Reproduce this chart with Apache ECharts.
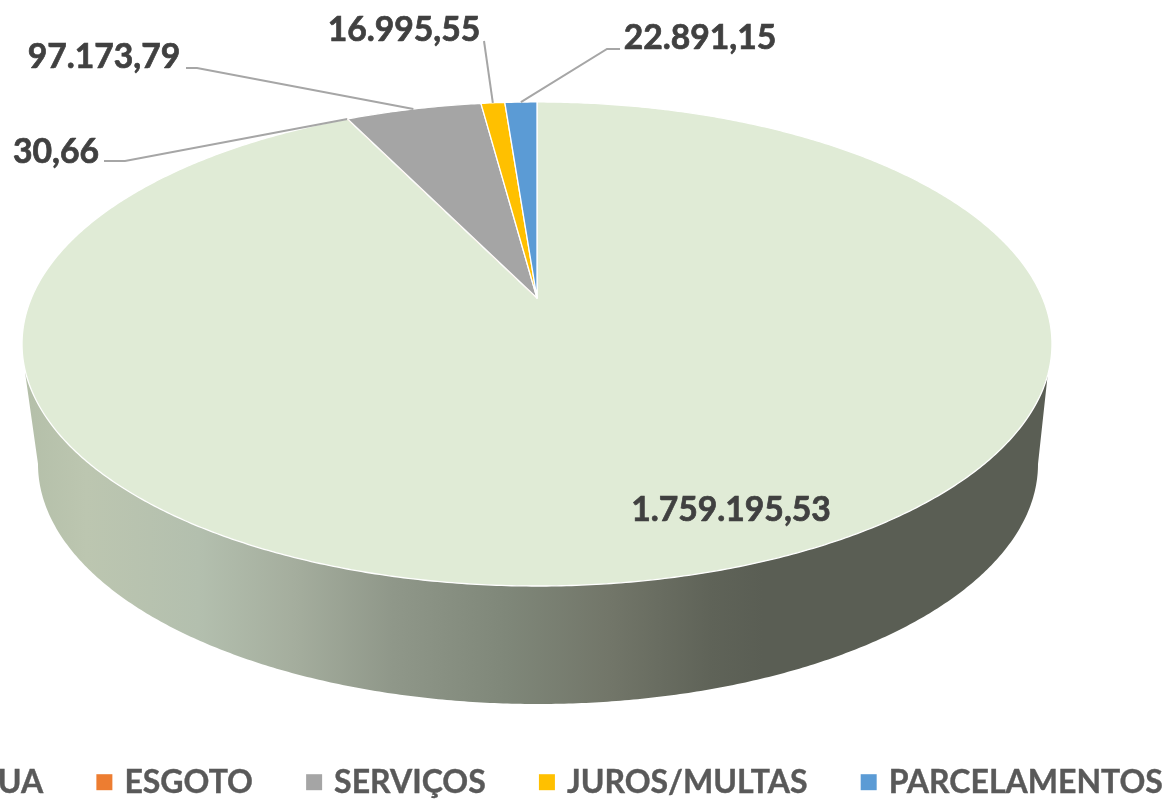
<!DOCTYPE html>
<html><head><meta charset="utf-8">
<style>html,body{margin:0;padding:0;background:#fff;overflow:hidden}#c{width:1167px;height:800px}</style>
<script src="https://cdn.jsdelivr.net/npm/echarts@6/dist/echarts.min.js"></script>
</head><body><div id="c"></div>
<script>
const categories = ['ÁGUA', 'ESGOTO', 'SERVIÇOS', 'JUROS/MULTAS', 'PARCELAMENTOS'];
const values = [1759195.53, 30.66, 97173.79, 16995.55, 22891.15];
const colors = ['#e0ebd6', '#ed7d31', '#a5a5a5', '#ffc000', '#5b9bd5'];

// Perspective disc: projective map of a unit circle (apex = centre of the circle)
const disc = { cx: 537, cy: 298, a: 505.6, b: 233.3, p: 0.19 };
const base = { cx: 538, cy: 464, rx: 500, ry: 240 };
// label anchor: text centre, and the elbow of the leader line
const labelLayout = [
  { x: 731, y: 510 },
  { x: 56, y: 152, line: [[104, 161], [125, 161]] },
  { x: 104, y: 57, line: [[186, 68], [197, 68]] },
  { x: 404, y: 30, line: [[484, 41]] },
  { x: 700, y: 38, line: [[620, 49], [607, 49]] }
];
const total = values.reduce((s, v) => s + v, 0);
function project(t) {
  const w = 1 + disc.p * Math.cos(t);
  return [disc.cx + disc.a * Math.sin(t) / w, disc.cy - disc.b * Math.cos(t) / w];
}
function fmt(v) {
  const [i, d] = v.toFixed(2).split('.');
  return i.replace(/\B(?=(\d{3})+(?!\d))/g, '.') + ',' + d;
}
const font = { fontFamily: 'Lato', fontWeight: 700, fontSize: 33.7, stroke: '#404040', lineWidth: 0.7 };
function sliceSeries(idx) {
  const before = values.slice(0, idx).reduce((s, v) => s + v, 0);
  return {
    type: 'custom', name: categories[idx], coordinateSystem: 'none',
    itemStyle: { color: colors[idx] }, silent: true, z: 3, clip: false,
    data: [[values[idx]]],
    renderItem(params, api) {
      const v = api.value(0);
      const t0 = before / total * Math.PI * 2, t1 = (before + v) / total * Math.PI * 2;
      const pts = [[disc.cx, disc.cy]];
      const n = Math.max(2, Math.ceil((t1 - t0) / 0.008));
      for (let i = 0; i <= n; i++) pts.push(project(t0 + (t1 - t0) * i / n));
      const lay = labelLayout[idx];
      const kids = [{
        type: 'polygon', shape: { points: pts },
        style: { fill: colors[idx], stroke: v / total < 0.0005 ? colors[idx] : '#fff', lineWidth: v / total < 0.0005 ? 0.6 : 1.3, lineJoin: 'round' }
      }];
      if (lay.line) {
        const end = project((t0 + t1) / 2);
        kids.push({
          type: 'polyline', shape: { points: lay.line.concat([end]) },
          style: { fill: 'none', stroke: '#a6a6a6', lineWidth: 2 }
        });
      }
      kids.push({
        type: 'text', x: lay.x, y: lay.y,
        style: Object.assign({ text: fmt(v), fill: '#404040', align: 'center', verticalAlign: 'middle' }, font)
      });
      return { type: 'group', children: kids };
    }
  };
}
const wallSeries = {
  type: 'custom', name: 'wall', coordinateSystem: 'none', silent: true, z: 2, clip: false,
  data: [[total]],
  renderItem() {
    const pts = [[1048, 372], [base.cx + base.rx, base.cy]];
    for (let d = 0; d <= 180; d += 0.5) {
      const r = d * Math.PI / 180;
      pts.push([base.cx + base.rx * Math.cos(r), base.cy + base.ry * Math.sin(r)]);
    }
    pts.push([25, 372]);
    return {
      type: 'polygon', shape: { points: pts },
      style: {
        fill: {
          type: 'linear', x: 25, y: 0, x2: 1050, y2: 0, global: true,
          colorStops: [
            { offset: 0, color: '#b4bfa9' }, { offset: 0.06, color: '#bcc6b0' },
            { offset: 0.17, color: '#b3bfae' }, { offset: 0.26, color: '#a5ae9e' },
            { offset: 0.36, color: '#8f9789' }, { offset: 0.47, color: '#7f8779' },
            { offset: 0.57, color: '#727669' }, { offset: 0.67, color: '#5f6358' },
            { offset: 0.72, color: '#5a5e54' }, { offset: 1, color: '#5a5e54' }
          ]
        }
      }
    };
  }
};
const chart = echarts.init(document.getElementById('c'));
chart.setOption({
  animation: false, backgroundColor: '#fff',
  legend: {
    data: categories, left: -75, top: 766, width: 1500, icon: 'rect',
    itemWidth: 16, itemHeight: 16, itemGap: 53, padding: 0,
    textStyle: { color: '#595959', fontFamily: 'Lato', fontWeight: 700, fontSize: 32, padding: [0, 0, 0, 7], textBorderColor: '#595959', textBorderWidth: 0.4 }
  },
  series: [wallSeries].concat(categories.map((c, i) => sliceSeries(i)))
});
</script></body></html>
